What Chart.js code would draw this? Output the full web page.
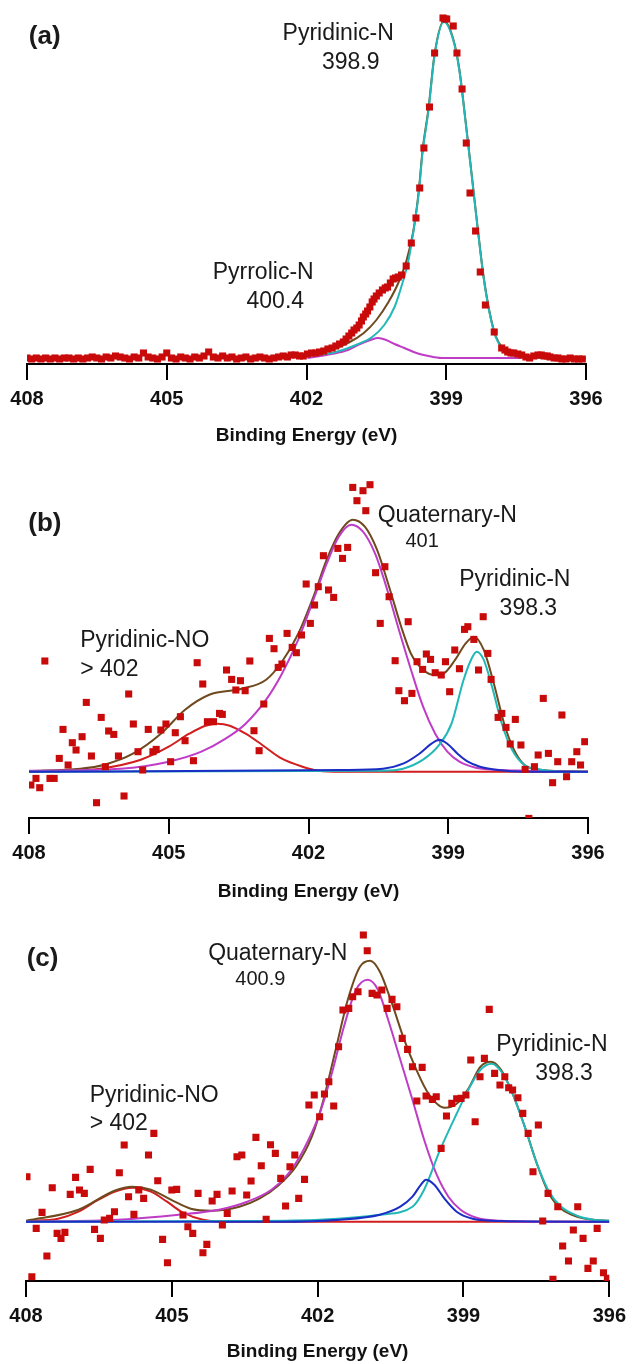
<!DOCTYPE html>
<html>
<head>
<meta charset="utf-8">
<title>N1s XPS</title>
<script src="https://cdn.jsdelivr.net/npm/chart.js@4.4.1/dist/chart.umd.min.js"></script>
<style>
  html, body { margin: 0; padding: 0; background: #fff; overflow: hidden; }
  #wrap { position: relative; width: 633px; height: 1364px; }
  canvas { position: absolute; left: 0; }
</style>
</head>
<body>
<div id="wrap">
  <canvas id="chartA" width="633" height="454" style="top:0px"></canvas>
  <canvas id="chartB" width="633" height="454" style="top:454px"></canvas>
  <canvas id="chartC" width="633" height="463" style="top:908px"></canvas>
</div>
<script>
// Binding energy axis (eV), shown high -> low
const energyTicks = [408, 405, 402, 399, 396];

// ---- panel (a): [binding energy, counts above baseline] ----
const aPoints = [
  [408.0, 1], [407.9, 0], [407.8, 1], [407.7, 0], [407.6, 1], [407.5, 0], [407.4, 1], [407.3, 0], [407.2, 1], [407.1, 1],
  [407.0, 0], [406.9, 1], [406.8, 0], [406.7, 1], [406.6, 2], [406.5, 1], [406.4, 0], [406.3, 2], [406.2, 1], [406.1, 3],
  [406.0, 2], [405.9, 1], [405.8, 0], [405.7, 2], [405.6, 1], [405.5, 6], [405.4, 2], [405.3, 1], [405.2, 0], [405.1, 2],
  [405.0, 6], [404.9, 1], [404.8, 0], [404.7, 2], [404.6, 1], [404.5, 0], [404.4, 2], [404.3, 1], [404.2, 3], [404.1, 7],
  [404.0, 2], [403.9, 1], [403.8, 3], [403.7, 1], [403.6, 2], [403.5, 0], [403.4, 1], [403.3, 2], [403.2, 0], [403.1, 1],
  [403.0, 2], [402.9, 1], [402.8, 0], [402.7, 1], [402.6, 2], [402.5, 3],
  [402.41, 2], [402.33, 4], [402.24, 4], [402.15, 3], [402.07, 3], [401.98, 5], [401.89, 6], [401.80, 6], [401.72, 7],
  [401.63, 8], [401.54, 10], [401.45, 11], [401.37, 13], [401.29, 15], [401.21, 17], [401.15, 20], [401.09, 23],
  [401.03, 26], [400.98, 29], [400.92, 31], [400.87, 34], [400.82, 38], [400.78, 42], [400.73, 45], [400.69, 48],
  [400.64, 52], [400.59, 57], [400.55, 60], [400.50, 63], [400.44, 66], [400.37, 69], [400.31, 71], [400.26, 72],
  [400.20, 76], [400.14, 80], [400.09, 81], [400.03, 82], [399.96, 84], [399.86, 93], [399.75, 116], [399.65, 141],
  [399.57, 171], [399.48, 211], [399.36, 252], [399.25, 306], [399.07, 341], [399.03, 340], [398.99, 340],
  [398.85, 333], [398.77, 306], [398.66, 270], [398.57, 216], [398.49, 166], [398.37, 128], [398.27, 87],
  [398.16, 54], [397.97, 27], [397.81, 11], [397.74, 9], [397.68, 7], [397.61, 6], [397.55, 6], [397.46, 5],
  [397.38, 4], [397.29, 2], [397.21, 1], [397.12, 3], [397.03, 4], [396.96, 4], [396.90, 3], [396.83, 3],
  [396.77, 2], [396.68, 1], [396.60, 1], [396.52, 0], [396.43, 0], [396.34, 1], [396.25, 0], [396.16, 0], [396.08, 0]
];
const aEnvelope = [
  [402.6, 2], [402.33, 3], [401.63, 7], [401.11, 16], [400.77, 26], [400.50, 39], [400.24, 57], [400.03, 76],
  [399.85, 99], [399.71, 127], [399.59, 168], [399.51, 208], [399.38, 251], [399.25, 305], [399.05, 338],
  [398.85, 320], [398.72, 290], [398.59, 240], [398.46, 187], [398.33, 133], [398.20, 83], [398.07, 47],
  [397.94, 23], [397.77, 10], [397.55, 5], [397.29, 3], [396.86, 2], [396.0, 1]
];
const aPyridinic = [
  [402.6, 1], [402.33, 2], [401.80, 4], [401.37, 7], [400.94, 14], [400.59, 22], [400.33, 34], [400.11, 52],
  [399.94, 76], [399.81, 99], [399.71, 126], [399.59, 166], [399.51, 206], [399.38, 249], [399.25, 304],
  [399.05, 337], [398.85, 319], [398.72, 289], [398.59, 239], [398.46, 186], [398.33, 132], [398.20, 82],
  [398.07, 46], [397.94, 22], [397.77, 9], [397.55, 4], [397.29, 2], [396.86, 1], [396.0, 0]
];
const aPyrrolic = [
  [401.98, 1], [401.46, 5], [401.11, 9], [400.85, 15], [400.63, 19], [400.46, 21], [400.29, 19], [400.11, 15],
  [399.90, 11], [399.64, 6], [399.38, 3], [399.11, 1], [397.38, 1]
];

// ---- panel (b) ----
const bPoints = [
  [407.96, -13.3], [407.85, -6.7], [407.77, -16], [407.66, 110.7], [407.55, -6.7], [407.46, -6.7], [407.35, 13.3],
  [407.27, 42.3], [407.16, 6.7], [407.07, 29], [406.99, 21.7], [406.86, 35], [406.77, 69.3], [406.66, 15.7],
  [406.55, -31], [406.45, 54.3], [406.36, 5], [406.29, 40.7], [406.18, 37.3], [406.08, 15.7], [405.96, -24.3],
  [405.86, 77.7], [405.76, 47.7], [405.66, 20], [405.56, 1.7], [405.44, 42.3], [405.34, 20], [405.27, 22.3],
  [405.17, 41.7], [405.06, 47.7], [404.96, 10], [404.86, 39], [404.75, 55], [404.65, 31], [404.47, 11],
  [404.39, 109], [404.27, 87.7], [404.17, 50], [404.04, 50], [403.91, 58.3], [403.85, 57.3], [403.76, 101.7],
  [403.65, 92.3], [403.56, 81.7], [403.46, 91], [403.36, 81], [403.26, 110.7], [403.17, 41], [403.06, 21],
  [402.96, 67.7], [402.84, 133.3], [402.74, 123], [402.65, 104.3], [402.57, 107.7], [402.46, 138.3],
  [402.35, 124.3], [402.26, 119], [402.15, 136.7], [402.05, 187.7], [401.96, 148.3], [401.87, 166.7],
  [401.79, 185], [401.68, 216], [401.57, 181.7], [401.46, 174.3], [401.37, 223.3], [401.27, 213.3],
  [401.16, 224.3], [401.05, 284.3], [400.96, 271], [400.83, 281], [400.77, 261], [400.68, 287], [400.56, 199],
  [400.46, 148.3], [400.36, 205], [400.27, 175], [400.14, 111], [400.06, 81], [399.94, 71], [399.86, 150],
  [399.78, 78.3], [399.67, 110], [399.55, 102.3], [399.47, 117.7], [399.38, 112.3], [399.28, 99], [399.15, 96.7],
  [399.06, 110], [398.97, 80], [398.86, 121.7], [398.76, 103], [398.65, 142.3], [398.58, 145], [398.45, 132.3],
  [398.35, 101.7], [398.25, 155], [398.15, 118.3], [398.08, 92.3], [397.93, 54.3], [397.85, 58.3], [397.76, 44.3],
  [397.67, 27.7], [397.56, 52.3], [397.44, 26.7], [397.35, 2.3], [397.27, -46.7], [397.15, 5], [397.07, 16.7],
  [396.96, 73.3], [396.85, 18.3], [396.76, -11], [396.65, 10], [396.56, 56.7], [396.46, -5], [396.35, 10],
  [396.24, 20], [396.16, 6.7], [396.07, 30]
];
const bEnvelope = [
  [408.0, 0.7], [406.9, 3], [406.38, 7], [405.77, 18], [405.17, 38], [404.65, 62], [404.13, 77], [403.43, 83],
  [402.91, 92], [402.57, 110], [402.22, 138], [401.87, 178], [401.61, 212], [401.35, 238], [401.05, 252],
  [400.79, 245], [400.53, 222], [400.27, 185], [400.01, 145], [399.80, 118], [399.54, 102], [399.32, 97],
  [399.11, 98], [398.85, 112], [398.63, 128], [398.45, 135], [398.24, 122], [398.02, 88], [397.80, 48],
  [397.59, 22], [397.37, 7], [397.02, 2], [396.0, 0]
];
const bQuaternary = [
  [408.0, 1], [406.03, 3], [405.0, 10], [404.3, 20], [403.78, 33], [403.35, 48], [402.91, 72], [402.57, 98],
  [402.22, 132], [401.87, 175], [401.61, 208], [401.35, 235], [401.08, 247], [400.83, 240], [400.57, 218],
  [400.31, 182], [400.06, 142], [399.80, 102], [399.54, 65], [399.28, 38], [399.02, 20], [398.76, 10],
  [398.41, 4], [397.98, 2], [397.37, 1], [396.0, 0]
];
const bPyridinic = [
  [408.0, 0], [400.40, 1], [399.97, 3], [399.54, 12], [399.19, 27], [398.93, 48], [398.67, 92], [398.50, 113],
  [398.39, 120], [398.24, 112], [398.06, 85], [397.85, 48], [397.63, 22], [397.37, 7], [397.02, 2], [396.5, 0], [396.0, 0]
];
const bMinor = [
  [408.0, 0], [401.27, 1.7], [400.40, 3], [399.97, 8], [399.62, 18], [399.36, 28], [399.19, 32], [399.02, 28],
  [398.80, 18], [398.58, 10], [398.32, 5], [397.98, 2], [397.37, 0], [396.0, 0]
];
const bPyridinicNO = [
  [408.0, 0], [407.0, 1], [406.47, 3], [405.60, 12], [405.0, 25], [404.56, 38], [404.21, 46], [403.95, 48],
  [403.69, 46], [403.35, 38], [403.0, 27], [402.57, 13], [402.13, 5], [401.79, 1], [401.3, 0], [396.0, 0]
];

// ---- panel (c) ----
const cPoints = [
  [407.98, 45], [407.88, -55], [407.79, -6.7], [407.67, 9.3], [407.57, -34.3], [407.46, 34], [407.36, -11.7],
  [407.28, -16.7], [407.20, -10.7], [407.09, 27.3], [406.98, 44.3], [406.90, 31.7], [406.80, 28.3], [406.68, 52.3],
  [406.59, -7.7], [406.47, -16.7], [406.39, 1.7], [406.28, 3.3], [406.18, 10], [406.08, 49], [405.98, 76.7],
  [405.89, 25], [405.78, 7.3], [405.68, 31.7], [405.58, 23.3], [405.48, 66.7], [405.37, 88.3], [405.29, 41],
  [405.19, -17.7], [405.09, -41], [405.00, 31.7], [404.90, 32.3], [404.77, 6.7], [404.67, -5], [404.57, -11.7],
  [404.46, 28.3], [404.36, -31], [404.28, -22.7], [404.17, 20.7], [404.07, 27.3], [403.96, -3.3], [403.86, 8.3],
  [403.76, 30.7], [403.66, 65], [403.56, 66.7], [403.46, 26.7], [403.37, 40.7], [403.27, 84.3], [403.16, 56],
  [403.06, 2.3], [402.97, 77], [402.87, 68.3], [402.76, 43.3], [402.66, 15.7], [402.57, 55], [402.47, 66.7],
  [402.39, 23.3], [402.27, 42.3], [402.18, 116.7], [402.07, 126.7], [401.96, 105], [401.86, 127.7], [401.77, 140],
  [401.67, 115.7], [401.57, 175], [401.48, 211.7], [401.36, 213.3], [401.28, 225], [401.17, 230], [401.06, 286.7],
  [400.98, 271], [400.88, 228.3], [400.78, 226.7], [400.68, 231.7], [400.57, 213.3], [400.47, 222.3], [400.37, 215],
  [400.26, 183.3], [400.15, 172.3], [400.05, 155], [399.96, 120.7], [399.85, 154.3], [399.77, 125.7], [399.64, 122.3],
  [399.56, 125], [399.46, 73.3], [399.35, 105.7], [399.24, 118.3], [399.14, 123], [399.05, 123.3], [398.95, 126.7],
  [398.85, 161.7], [398.76, 100], [398.66, 145], [398.57, 163.3], [398.47, 212.3], [398.36, 148.3], [398.25, 136.7],
  [398.15, 145], [398.07, 134], [397.99, 131.7], [397.88, 124], [397.78, 108.3], [397.67, 88.3], [397.57, 50],
  [397.46, 96.7], [397.37, 0.7], [397.26, 28.3], [397.16, -57.7], [397.06, 15], [396.96, -24.3], [396.84, -39.3],
  [396.74, -8.3], [396.65, 15], [396.54, -16.7], [396.44, -46.7], [396.33, -39.3], [396.25, -6.7], [396.12, -51],
  [396.04, -56.7]
];
const cEnvelope = [
  [408.0, 1], [406.92, 12], [406.18, 31], [405.81, 35], [405.43, 32], [405.02, 22], [404.61, 13], [404.19, 11],
  [403.61, 15], [403.2, 23], [402.79, 37], [402.45, 55], [402.12, 85], [401.88, 122], [401.63, 172], [401.38, 222],
  [401.13, 255], [400.92, 261], [400.72, 250], [400.47, 218], [400.22, 182], [399.97, 152], [399.72, 128],
  [399.39, 114], [399.14, 118], [398.90, 133], [398.65, 155], [398.44, 160], [398.23, 152], [397.99, 128],
  [397.74, 95], [397.49, 58], [397.24, 28], [396.99, 13], [396.66, 5], [396.33, 2], [396.0, 1]
];
const cQuaternary = [
  [408.0, 0], [406.10, 2], [404.86, 7], [404.03, 12], [403.45, 20], [402.95, 32], [402.62, 47], [402.29, 72],
  [401.96, 108], [401.71, 148], [401.46, 195], [401.21, 232], [400.97, 242], [400.76, 232], [400.55, 202],
  [400.30, 162], [400.05, 122], [399.81, 82], [399.56, 48], [399.31, 25], [399.06, 12], [398.73, 4], [398.23, 1],
  [397.4, 0], [396.0, 0]
];
const cPyridinic = [
  [408.0, 0], [403.61, 0.7], [401.96, 2], [400.72, 7], [400.05, 15], [399.81, 32], [399.48, 72], [399.14, 108],
  [398.90, 132], [398.65, 152], [398.42, 158], [398.19, 148], [397.99, 128], [397.74, 95], [397.49, 58],
  [397.24, 30], [396.99, 15], [396.66, 6], [396.33, 2], [396.0, 1]
];
const cMinor = [
  [408.0, 0], [402.79, 0], [401.54, 2], [400.72, 7], [400.30, 15], [400.05, 25], [399.89, 36], [399.77, 42],
  [399.60, 37], [399.39, 23], [399.14, 10], [398.81, 3], [398.23, 0.7], [396.0, 0]
];
const cPyridinicNO = [
  [408.0, 0.7], [407.34, 3], [406.92, 10], [406.51, 22], [406.18, 30], [405.81, 34], [405.43, 30], [405.10, 20],
  [404.77, 9], [404.36, 2], [403.94, 0], [396.0, 0]
];

// Colours picked from the figure
const palette = {
  points: '#C80A0A',
  envelope: '#6E4A1E',
  cyan: '#22B8B8',
  magenta: '#BF3CC6',
  blue: '#1B2DC4',
  red: '#D21E1E',
  text: '#1A1A1A'
};
const FONT = '"Liberation Sans", Arial, sans-serif';

// text labels drawn at (energy, counts)
const aNotes = [
  { text: '(a)', e: 407.62, h: 322, size: 26, bold: true },
  { text: 'Pyridinic-N', e: 401.32, h: 325, size: 23 },
  { text: '398.9', e: 401.05, h: 296, size: 23 },
  { text: 'Pyrrolic-N', e: 402.93, h: 86, size: 23 },
  { text: '400.4', e: 402.67, h: 57, size: 23 }
];
const bNotes = [
  { text: '(b)', e: 407.66, h: 248, size: 26, bold: true },
  { text: 'Quaternary-N', e: 399.02, h: 256, size: 23 },
  { text: '401', e: 399.56, h: 230, size: 20 },
  { text: 'Pyridinic-N', e: 397.57, h: 192, size: 23 },
  { text: '398.3', e: 397.28, h: 163, size: 23 },
  { text: 'Pyridinic-NO', e: 406.90, h: 131, size: 23, align: 'left' },
  { text: '> 402', e: 406.90, h: 102, size: 23, align: 'left' }
];
const cNotes = [
  { text: '(c)', e: 407.66, h: 263, size: 26, bold: true },
  { text: 'Quaternary-N', e: 402.82, h: 268, size: 23 },
  { text: '400.9', e: 403.18, h: 242, size: 20 },
  { text: 'Pyridinic-N', e: 397.18, h: 177, size: 23 },
  { text: '398.3', e: 396.93, h: 148, size: 23 },
  { text: 'Pyridinic-NO', e: 406.69, h: 126, size: 23, align: 'left' },
  { text: '> 402', e: 406.69, h: 98, size: 23, align: 'left' }
];

const notesPlugin = {
  id: 'notes',
  afterDatasetsDraw(chart, args, opts) {
    const { ctx, scales: { x, y } } = chart;
    ctx.save();
    ctx.fillStyle = palette.text;
    ctx.textBaseline = 'middle';
    (opts.items || []).forEach(n => {
      ctx.font = (n.bold ? 'bold ' : '') + n.size + 'px ' + FONT;
      ctx.textAlign = n.align || 'center';
      ctx.fillText(n.text, x.getPixelForValue(n.e), y.getPixelForValue(n.h));
    });
    ctx.restore();
  }
};

const xy = arr => arr.map(([x, y]) => ({ x, y }));

function curve(data, color) {
  return {
    data: xy(data),
    showLine: true,
    borderColor: color,
    borderWidth: 2,
    pointRadius: 0,
    cubicInterpolationMode: 'monotone'
  };
}

function scatter(data) {
  return {
    data: xy(data),
    showLine: false,
    pointStyle: 'rect',
    pointRadius: 5,
    backgroundColor: palette.points,
    borderColor: palette.points,
    borderWidth: 0,
    clip: 0
  };
}

function buildPanel(id, datasets, frame, notes) {
  return new Chart(document.getElementById(id), {
    type: 'scatter',
    data: { datasets },
    options: {
      responsive: false,
      animation: false,
      events: [],
      layout: { padding: frame.padding },
      plugins: {
        legend: { display: false },
        tooltip: { enabled: false },
        notes: { items: notes }
      },
      scales: {
        x: {
          type: 'linear',
          reverse: true,
          min: 396,
          max: 408,
          afterBuildTicks: s => { s.ticks = energyTicks.map(v => ({ value: v })); },
          afterFit: s => { s.height = 90; },
          border: { display: true, color: '#000', width: 2 },
          grid: { drawOnChartArea: false, drawTicks: true, tickLength: 16, color: '#000', lineWidth: 2 },
          ticks: {
            color: '#111',
            padding: 7,
            maxRotation: 0,
            font: { family: FONT, size: 20, weight: 'bold' }
          },
          title: {
            display: true,
            text: 'Binding Energy (eV)',
            color: '#111',
            font: { family: FONT, size: 19, weight: 'bold' },
            padding: { top: 0, bottom: frame.titlePad }
          }
        },
        y: { display: false, min: frame.yMin, max: frame.yMax }
      }
    },
    plugins: [notesPlugin]
  });
}

// dataset 0 is drawn on top; the fit envelope sits under the components
buildPanel('chartA', [
  scatter(aPoints),
  curve(aPyridinic, palette.cyan),
  curve(aPyrrolic, palette.magenta),
  curve(aEnvelope, palette.envelope)
], { padding: { left: 27, right: 47, top: 8, bottom: 0 }, yMin: -5, yMax: 351, titlePad: 7 }, aNotes);

buildPanel('chartB', [
  scatter(bPoints),
  curve(bMinor, palette.blue),
  curve(bPyridinic, palette.cyan),
  curve(bQuaternary, palette.magenta),
  curve(bEnvelope, palette.envelope),
  curve(bPyridinicNO, palette.red)
], { padding: { left: 29, right: 45, top: 16, bottom: 0 }, yMin: -46.3, yMax: 301.7, titlePad: 5 }, bNotes);

buildPanel('chartC', [
  scatter(cPoints),
  curve(cMinor, palette.blue),
  curve(cPyridinic, palette.cyan),
  curve(cQuaternary, palette.magenta),
  curve(cEnvelope, palette.envelope),
  curve(cPyridinicNO, palette.red)
], { padding: { left: 26, right: 19, top: 17, bottom: 0 }, yMin: -59.3, yMax: 296.7, titlePad: 8 }, cNotes);
</script>
</body>
</html>
